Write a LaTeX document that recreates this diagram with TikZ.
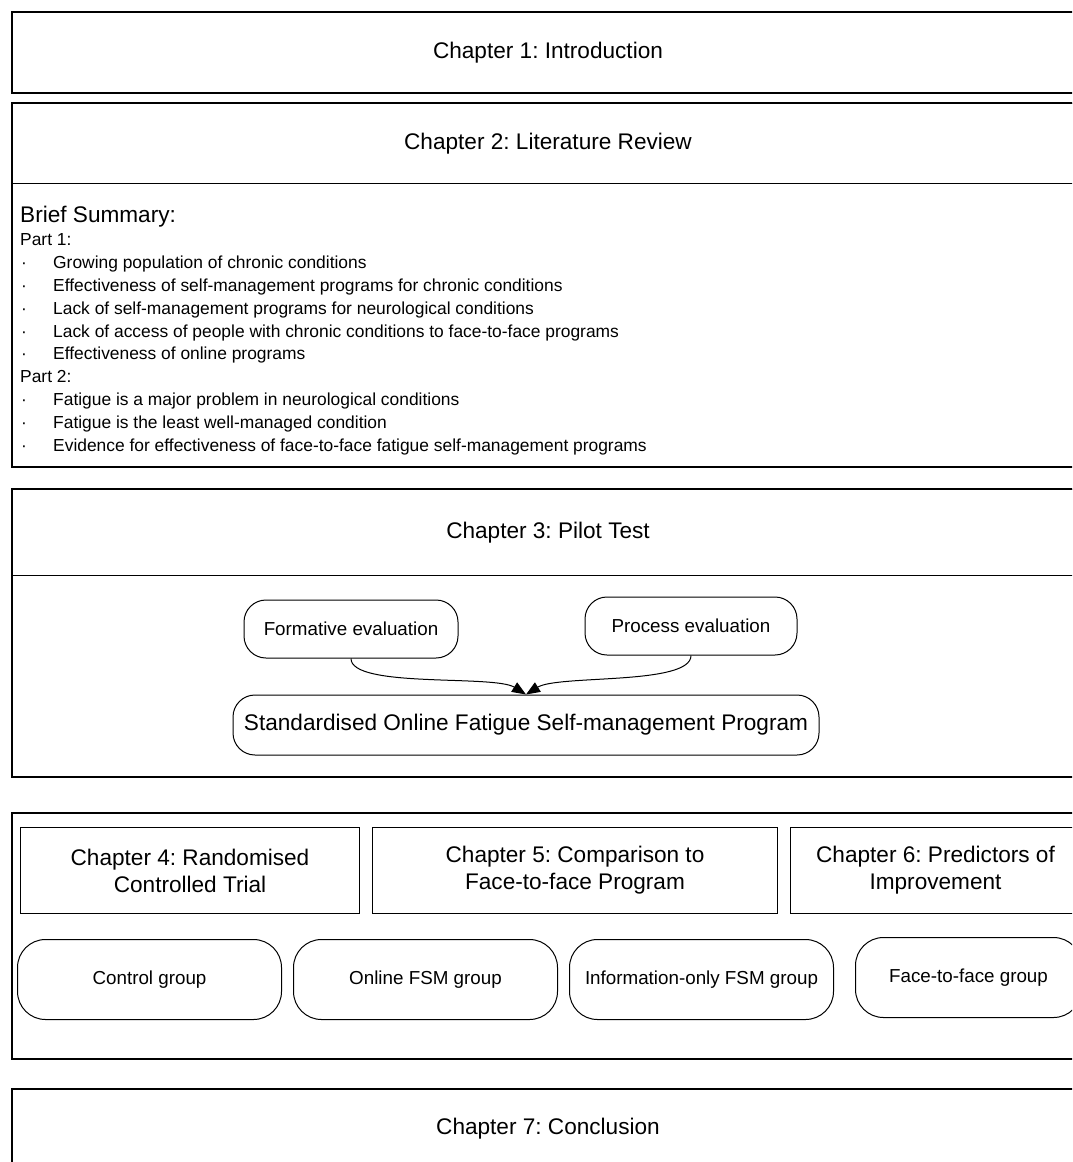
\documentclass[tikz,border=0pt]{standalone}
\usepackage{fontspec}
\setmainfont{Liberation Sans}
\usetikzlibrary{positioning,arrows.meta}
\frenchspacing

\newcommand{\dotitem}{\makebox[33pt][l]{\hspace{1pt}·}}

\begin{document}
\begin{tikzpicture}[x=1pt,y=-1pt,
    chapter/.style={draw,line width=2pt,outer sep=0pt,minimum width=1072pt,inner sep=0pt,font=\fontsize{22.6}{27}\selectfont},
    heading/.style={draw,line width=1pt,minimum width=1072pt,inner sep=0pt,font=\fontsize{22.6}{27}\selectfont},
    study/.style={draw,line width=1pt,minimum height=86pt,align=center,inner sep=0pt,font=\fontsize{22.6}{27}\selectfont},
    group/.style={draw,line width=1pt,rounded corners=28pt,minimum width=264pt,minimum height=80pt,font=\fontsize{18.8}{22}\selectfont},
    evaluation/.style={draw,line width=1pt,rounded corners=22pt,minimum height=58pt,font=\fontsize{18.8}{22}\selectfont},
    flow/.style={line width=1pt,-{Triangle[length=14pt,width=11pt]}}]
  \useasboundingbox (0,0) rectangle (1072,1162);
  \clip (0,0) rectangle (1072,1162);

  % chapter 1 and 2
  \node[chapter,minimum height=81pt,anchor=north west] (intro) at (12,12) {Chapter 1: Introduction};
  \node[chapter,minimum height=364pt,below=10pt of intro] (review) {};
  \node[heading,minimum height=80pt,anchor=north] (review title) at (review.north) {Chapter 2: Literature Review};
  \node[anchor=north west,inner sep=0pt,align=left,font=\fontsize{17.4}{22.9}\selectfont] (summary) at (20,206)
    {{\fontsize{22.6}{22.9}\selectfont Brief Summary:}\\
     Part 1:\\
     \dotitem Growing population of chronic conditions\\
     \dotitem Effectiveness of self-management programs for chronic conditions\\
     \dotitem Lack of self-management programs for neurological conditions\\
     \dotitem Lack of access of people with chronic conditions to face-to-face programs\\
     \dotitem Effectiveness of online programs\\
     Part 2:\\
     \dotitem Fatigue is a major problem in neurological conditions\\
     \dotitem Fatigue is the least well-managed condition\\
     \dotitem Evidence for effectiveness of face-to-face fatigue self-management programs};

  % chapter 3
  \node[chapter,minimum height=288pt,below=22pt of review] (pilot) {};
  \node[heading,minimum height=86pt,anchor=north] (pilot title) at (pilot.north) {Chapter 3: Pilot Test};
  \node[evaluation,minimum width=214pt] (formative) at (351,629) {Formative evaluation};
  \node[evaluation,minimum width=212pt] (process) at (691,626) {Process evaluation};
  \node[evaluation,minimum width=586pt,minimum height=60pt,font=\fontsize{22.6}{27}\selectfont] (program) at (526,725)
    {Standardised Online Fatigue Self-management Program};
  \draw[flow] (formative.south) .. controls +(0,30) and +(-32,-20) .. (program.north);
  \draw[flow] (process.south) .. controls +(0,30) and +(32,-20) .. (program.north);

  % chapters 4 to 6
  \node[chapter,minimum height=246pt,below=36pt of pilot] (trials) {};
  \node[study,minimum width=339pt,anchor=north west] (rct) at (20,827) {Chapter 4: Randomised\\Controlled Trial};
  \node[study,minimum width=405pt,right=12pt of rct] (comparison) {Chapter 5: Comparison to\\Face-to-face Program};
  \node[study,minimum width=290pt,right=12pt of comparison] (predictors) {Chapter 6: Predictors of\\Improvement};
  \node[group,anchor=north west] (control) at (17,939) {Control group};
  \node[group,right=11pt of control] (online) {Online FSM group};
  \node[group,right=11pt of online] (information) {Information-only FSM group};
  \node[group,minimum width=226pt,anchor=north west] (face) at (855,937) {Face-to-face group};

  % chapter 7
  \node[chapter,minimum height=80pt,below=30pt of trials] (conclusion) {Chapter 7: Conclusion};
\end{tikzpicture}
\end{document}
